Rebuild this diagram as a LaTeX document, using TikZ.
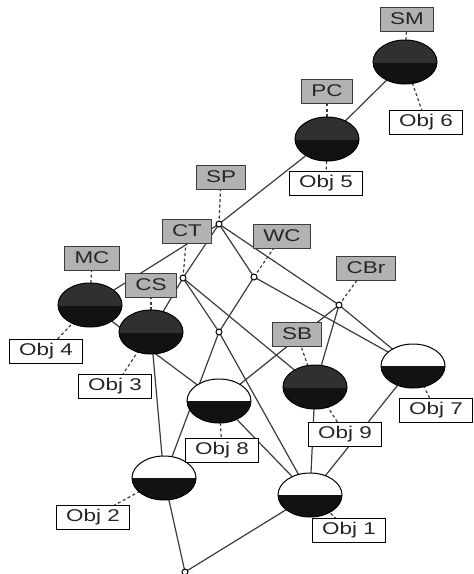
\documentclass[tikz,border=0pt]{standalone}
\usepackage{fontspec}
\setmainfont{Liberation Sans}
\usepackage{graphicx}
\usetikzlibrary{shapes.geometric}
\pgfdeclarelayer{bg}
\pgfsetlayers{bg,main}
\definecolor{edgec}{RGB}{60,60,60}
\definecolor{attrfill}{RGB}{178,178,178}
\definecolor{darktop}{RGB}{48,48,48}
\definecolor{darkbot}{RGB}{18,18,18}
\tikzset{
 edge/.style={draw=edgec, line width=1.2pt},
 lblline/.style={draw=edgec, line width=1.2pt, dash pattern=on 3pt off 2.5pt},
 concept/.style={ellipse, minimum width=64pt, minimum height=44pt, inner sep=0pt, draw=black, line width=1pt},
 objc/.style={concept, fill=white, path picture={\fill[darkbot] (path picture bounding box.west) rectangle (path picture bounding box.south east);}},
 fullc/.style={concept, fill=darktop, path picture={\fill[darkbot] ([yshift=-1pt]path picture bounding box.west) rectangle (path picture bounding box.south east);}},
 smallc/.style={circle, minimum size=6pt, inner sep=0pt, draw=black, line width=1pt, fill=white},
 lbl/.style={font=\fontsize{17}{20}\selectfont, minimum height=24pt, inner xsep=10pt, inner ysep=0pt, line width=1pt},
 attrlbl/.style={lbl, draw=edgec, fill=attrfill, text=black!85},
 objlbl/.style={lbl, draw=black, fill=white, text=black!85},
}
\newcommand{\wtxt}[1]{\scalebox{1.32}[1]{#1}}
\begin{document}
\begin{tikzpicture}[x=1pt,y=-1pt]
\useasboundingbox (0,0) rectangle (474,574);
% concept nodes
\node[fullc] (A) at (405,62) {};
\node[fullc] (B) at (327,139) {};
\node[smallc] (C) at (219,224) {};
\node[smallc] (D) at (183,278) {};
\node[smallc] (E) at (254,277) {};
\node[smallc] (F) at (339,305) {};
\node[fullc] (G) at (90,305) {};
\node[fullc] (H) at (151,332) {};
\node[smallc] (I) at (219,332) {};
\node[objc] (J) at (219,401) {};
\node[fullc] (K) at (315,387) {};
\node[objc] (L) at (413,366) {};
\node[objc] (M) at (164,478) {};
\node[objc] (N) at (310,495) {};
\node[smallc] (O) at (185,572) {};
% labels
\node[attrlbl] (lSM) at (407,19) {\wtxt{SM}};
\node[objlbl] (lO6) at (426,122) {\wtxt{Obj 6}};
\node[attrlbl] (lPC) at (327,91) {\wtxt{PC}};
\node[objlbl] (lO5) at (326,183) {\wtxt{Obj 5}};
\node[attrlbl] (lSP) at (221,177) {\wtxt{SP}};
\node[attrlbl] (lCT) at (187,231) {\wtxt{CT}};
\node[attrlbl] (lWC) at (282,236) {\wtxt{WC}};
\node[attrlbl] (lCBr) at (366,268) {\wtxt{CBr}};
\node[attrlbl] (lMC) at (92,258) {\wtxt{MC}};
\node[objlbl] (lO4) at (46,351) {\wtxt{Obj 4}};
\node[attrlbl] (lCS) at (151,285) {\wtxt{CS}};
\node[objlbl] (lO3) at (115,386) {\wtxt{Obj 3}};
\node[objlbl] (lO8) at (222,450) {\wtxt{Obj 8}};
\node[attrlbl] (lSB) at (297,334) {\wtxt{SB}};
\node[objlbl] (lO9) at (345,434) {\wtxt{Obj 9}};
\node[objlbl] (lO7) at (436,410) {\wtxt{Obj 7}};
\node[objlbl] (lO2) at (93,517) {\wtxt{Obj 2}};
\node[objlbl] (lO1) at (349,530) {\wtxt{Obj 1}};
\begin{pgfonlayer}{bg}
\fill[white] (0,0) rectangle (474,574);
\foreach \a/\b in {A/B,B/C,C/G,C/D,C/E,C/F,G/J,D/H,D/I,D/K,E/I,E/L,F/J,F/K,F/L,H/M,I/M,I/N,J/N,K/N,L/N,M/O,N/O}
  \draw[edge] (\a.center) -- (\b.center);
\foreach \a/\b in {A/lSM,A/lO6,B/lPC,B/lO5,C/lSP,D/lCT,E/lWC,F/lCBr,G/lMC,G/lO4,H/lCS,H/lO3,J/lO8,K/lSB,K/lO9,L/lO7,M/lO2,N/lO1}
  \draw[lblline] (\a.center) -- (\b.center);
\end{pgfonlayer}
\end{tikzpicture}
\end{document}
